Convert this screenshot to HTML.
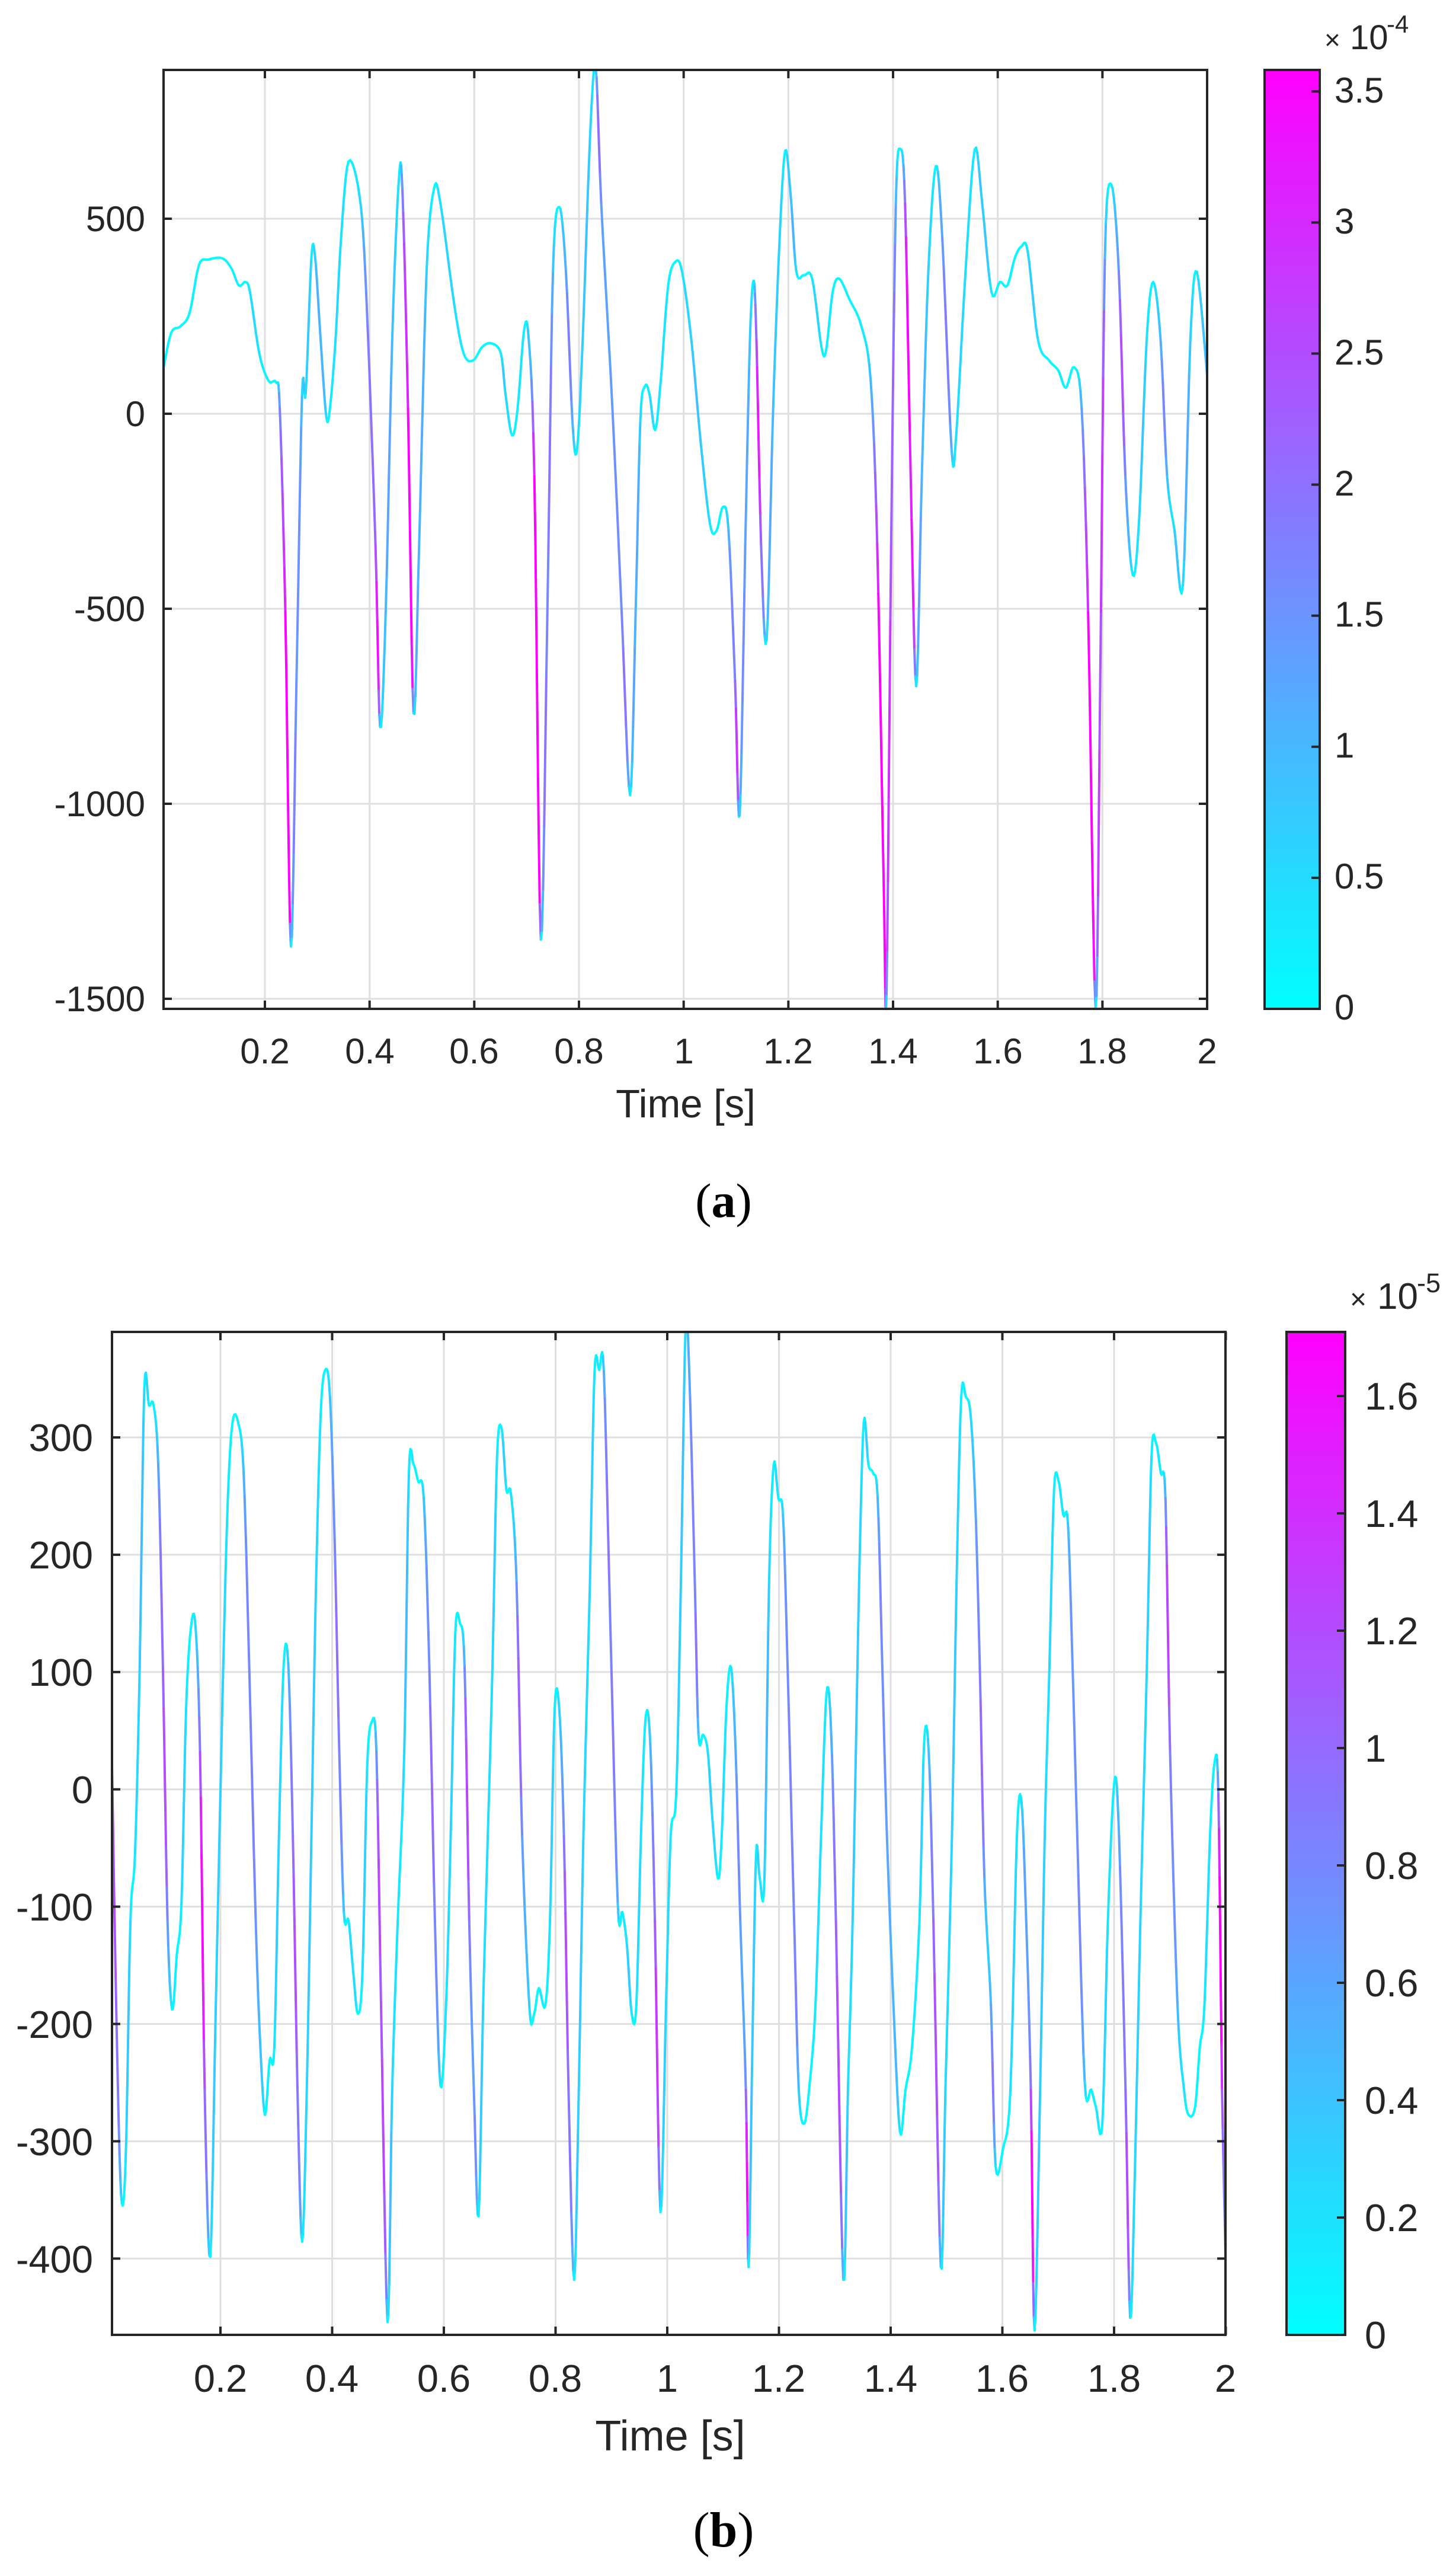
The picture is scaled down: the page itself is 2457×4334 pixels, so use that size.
<!DOCTYPE html>
<html><head><meta charset="utf-8"><style>
html,body{margin:0;padding:0;background:#fff;}
svg{display:block;}
text{font-family:"Liberation Sans",Arial,sans-serif;fill:#262626;}
</style></head><body>
<svg id="s" width="2457" height="4334" viewBox="0 0 2457 4334" xmlns="http://www.w3.org/2000/svg">
<defs>
<linearGradient id="cg" x1="0" y1="1" x2="0" y2="0"><stop offset="0" stop-color="#00ffff"/><stop offset="1" stop-color="#ff00ff"/></linearGradient>
<clipPath id="ca"><rect x="276" y="118" width="1761" height="1584"/></clipPath>
<clipPath id="cb"><rect x="189" y="2247" width="1879" height="1692"/></clipPath>
</defs>
<g id="gridA" stroke="#dfdfdf" stroke-width="3"></g>
<g id="gridB" stroke="#dfdfdf" stroke-width="3"></g>
<g id="curveA" clip-path="url(#ca)"></g>
<g id="curveB" clip-path="url(#cb)"></g>
<g id="axes" stroke="#262626" stroke-width="4" fill="none">
<rect x="276" y="118" width="1761" height="1584"/>
<rect x="189" y="2247" width="1879" height="1692"/>
</g>
<rect x="2134" y="118" width="93" height="1584" fill="url(#cg)" stroke="#262626" stroke-width="4"/>
<rect x="2171" y="2247" width="99" height="1692" fill="url(#cg)" stroke="#262626" stroke-width="4"/>
<g id="ticks" stroke="#262626" stroke-width="4"></g>
<g font-size="60" text-anchor="end">
<text x="245" y="390">500</text><text x="245" y="719">0</text><text x="245" y="1048">-500</text><text x="245" y="1377">-1000</text><text x="245" y="1706">-1500</text>
</g>
<g font-size="60" text-anchor="middle">
<text x="447" y="1794">0.2</text><text x="624" y="1794">0.4</text><text x="800" y="1794">0.6</text><text x="977" y="1794">0.8</text><text x="1154" y="1794">1</text><text x="1330" y="1794">1.2</text><text x="1507" y="1794">1.4</text><text x="1684" y="1794">1.6</text><text x="1860" y="1794">1.8</text><text x="2037" y="1794">2</text>
</g>
<text x="1157" y="1885" font-size="67" text-anchor="middle">Time [s]</text>
<g font-size="60" text-anchor="start">
<text x="2252" y="1720">0</text><text x="2252" y="1499">0.5</text><text x="2252" y="1278">1</text><text x="2252" y="1057">1.5</text><text x="2252" y="836">2</text><text x="2252" y="615">2.5</text><text x="2252" y="394">3</text><text x="2252" y="173">3.5</text>
</g>
<text x="2235" y="83" font-size="46" fill="#555">×</text>
<text x="2278" y="83" font-size="58">10</text>
<text x="2340" y="55" font-size="42">-4</text>
<text x="1221" y="2053" font-size="82" text-anchor="middle" style="font-family:'Liberation Serif',serif;fill:#000">(<tspan font-weight="bold">a</tspan>)</text>
<g font-size="65" text-anchor="end">
<text x="157" y="2448">300</text><text x="157" y="2646">200</text><text x="157" y="2844">100</text><text x="157" y="3042">0</text><text x="157" y="3240">-100</text><text x="157" y="3438">-200</text><text x="157" y="3636">-300</text><text x="157" y="3834">-400</text>
</g>
<g font-size="65" text-anchor="middle">
<text x="372" y="4035">0.2</text><text x="560" y="4035">0.4</text><text x="749" y="4035">0.6</text><text x="937" y="4035">0.8</text><text x="1126" y="4035">1</text><text x="1314" y="4035">1.2</text><text x="1503" y="4035">1.4</text><text x="1691" y="4035">1.6</text><text x="1880" y="4035">1.8</text><text x="2068" y="4035">2</text>
</g>
<text x="1131" y="4134" font-size="72" text-anchor="middle">Time [s]</text>
<g font-size="65" text-anchor="start">
<text x="2303" y="3962">0</text><text x="2303" y="3764">0.2</text><text x="2303" y="3566">0.4</text><text x="2303" y="3368">0.6</text><text x="2303" y="3170">0.8</text><text x="2303" y="2972">1</text><text x="2303" y="2774">1.2</text><text x="2303" y="2576">1.4</text><text x="2303" y="2378">1.6</text>
</g>
<text x="2278" y="2208" font-size="48" fill="#555">×</text>
<text x="2324" y="2208" font-size="62">10</text>
<text x="2391" y="2180" font-size="45">-5</text>
<text x="1221" y="4296" font-size="84" text-anchor="middle" style="font-family:'Liberation Serif',serif;fill:#000">(<tspan font-weight="bold">b</tspan>)</text>
</svg>
<script>
(function(){
var NS="http://www.w3.org/2000/svg";
function el(p,n,a){var e=document.createElementNS(NS,n);for(var k in a)e.setAttribute(k,a[k]);p.appendChild(e);return e;}
var gA=document.getElementById('gridA'),gB=document.getElementById('gridB'),tk=document.getElementById('ticks');
var i,x,y;
for(i=1;i<=10;i++){x=447+(i-1)*176.67;if(i<10){el(gA,'line',{x1:x,y1:118,x2:x,y2:1702});}el(tk,'line',{x1:x,y1:1702,x2:x,y2:1688});el(tk,'line',{x1:x,y1:118,x2:x,y2:132});}
for(i=0;i<5;i++){y=369+i*329;el(gA,'line',{x1:276,y1:y,x2:2037,y2:y});el(tk,'line',{x1:276,y1:y,x2:290,y2:y});el(tk,'line',{x1:2037,y1:y,x2:2023,y2:y});}
for(i=0;i<8;i++){y=1702-i*221.1;el(tk,'line',{x1:2227,y1:y,x2:2213,y2:y});}
for(i=1;i<=10;i++){x=372+(i-1)*188.5;if(i<10){el(gB,'line',{x1:x,y1:2247,x2:x,y2:3939});}el(tk,'line',{x1:x,y1:3939,x2:x,y2:3925});el(tk,'line',{x1:x,y1:2247,x2:x,y2:2261});}
for(i=0;i<8;i++){y=2425+i*197.9;el(gB,'line',{x1:189,y1:y,x2:2068,y2:y});el(tk,'line',{x1:189,y1:y,x2:203,y2:y});el(tk,'line',{x1:2068,y1:y,x2:2054,y2:y});}
for(i=0;i<9;i++){y=3939-i*198;el(tk,'line',{x1:2270,y1:y,x2:2256,y2:y});}

var A=[176,548,185,490,195,480,205,460,215,390,225,382,240,380,250,395,258,420,265,415,270,430,280,520,290,560,298,562,302,600,308,900,314,1390,320,1000,326,580,330,578,336,380,340,378,346,500,352,612,356,600,362,500,368,350,376,238,388,290,395,430,405,800,410,1068,416,900,423,500,430,268,434,280,440,600,446,1048,452,800,460,400,468,278,475,300,490,450,500,520,510,530,520,510,530,505,540,520,545,580,552,640,558,600,565,485,570,500,576,700,583,1380,590,900,596,400,603,305,610,400,617,620,622,660,628,500,636,200,642,100,648,300,660,600,670,900,679,1168,685,900,690,620,695,568,700,580,706,632,712,560,720,420,728,385,735,400,745,500,755,650,765,770,772,780,779,745,785,780,792,1000,797,1198,803,800,808,500,812,413,815,500,820,800,826,940,833,600,840,350,846,222,852,290,858,400,866,405,875,410,885,510,890,515,897,430,904,410,915,440,928,480,938,560,945,800,952,1300,955,1460,960,800,965,300,970,220,975,300,981,700,987,1008,993,700,1000,400,1008,245,1015,350,1025,660,1030,640,1040,400,1050,220,1058,300,1068,430,1077,415,1085,420,1093,380,1100,363,1107,370,1118,500,1130,530,1140,545,1148,570,1157,540,1165,600,1172,900,1180,1480,1185,1000,1190,380,1197,272,1205,400,1212,700,1220,845,1227,760,1235,500,1242,415,1250,500,1257,700,1265,780,1274,860,1282,500,1289,400,1300,550];
var B=[120,605,125,920,130,1125,135,1080,140,800,145,720,150,500,155,170,160,190,165,190,170,260,175,500,180,800,185,905,190,840,195,780,200,550,205,455,210,450,215,600,220,1000,226,1198,232,900,240,500,245,300,250,210,256,210,262,270,268,500,275,800,280,950,285,1030,290,965,295,950,300,700,305,500,310,495,315,700,320,1000,325,1180,330,1000,335,700,340,400,345,200,350,148,355,180,360,350,365,600,370,790,375,800,380,860,385,910,390,860,395,620,400,565,405,600,410,900,417,1275,422,1000,428,800,435,600,440,270,445,260,450,280,456,300,462,500,468,800,474,995,480,900,485,700,490,460,495,448,500,500,505,800,510,1000,515,1150,520,900,525,700,530,500,535,250,540,218,545,290,550,295,556,400,562,700,570,905,575,910,580,880,587,900,592,800,597,550,602,550,607,700,612,1000,618,1225,623,1000,628,700,635,400,640,150,645,148,650,150,657,450,665,780,670,790,675,830,680,910,685,900,690,700,695,560,700,590,705,800,711,1145,717,900,722,700,728,650,733,400,738,100,742,150,748,400,752,580,757,580,762,600,767,680,773,750,777,700,782,550,787,500,792,600,797,800,803,1000,806,1210,810,950,814,720,818,750,823,750,828,400,833,260,838,300,843,320,848,500,855,800,860,1000,866,1040,872,990,878,900,884,700,890,530,895,580,900,800,908,1225,913,1000,918,800,925,400,930,210,935,260,940,270,945,300,950,500,955,700,962,900,969,1050,975,1000,982,950,990,800,995,590,1000,600,1005,800,1013,1210,1018,1000,1025,700,1030,400,1035,180,1040,180,1045,200,1050,300,1055,500,1060,750,1067,900,1072,1090,1080,1070,1088,1000,1095,700,1100,660,1105,800,1110,1000,1114,1285,1120,1000,1125,700,1130,500,1135,290,1140,280,1145,320,1150,330,1155,500,1160,700,1168,990,1175,1000,1180,1020,1187,1040,1193,800,1200,635,1205,700,1212,1000,1217,1270,1222,1100,1228,800,1235,500,1240,250,1245,235,1250,270,1255,300,1260,600,1268,900,1275,1000,1280,1030,1287,1020,1292,950,1297,900,1303,700,1308,612,1312,650,1316,1000,1320,1210];
function conv(arr,fx,fy){var p=[];for(var i=0;i<arr.length;i+=2)p.push([fx(arr[i]),fy(arr[i+1])]);return p;}
var pa=conv(A,function(xz){var t=0.2+(xz-286)*1.8/1014;return 447+(t-0.2)*883.3;},function(yz){var v=500-(yz-322)*2000/1145;return 698-v*0.658;});
var pb=conv(B,function(xz){var t=0.2+(xz-237)*1.8/1083;return 372+(t-0.2)*942.5;},function(yz){var v=300-(yz-228)*700/972;return 2425-(v-300)*1.979;});
function col(c){c=Math.max(0,Math.min(1,c));var r=Math.round(255*c),g=Math.round(255*(1-c));return 'rgb('+r+','+g+',255)';}
function draw(g,p,Sd,Su){
 var pts=[];
 for(var i=0;i<p.length-1;i++){var p0=p[Math.max(0,i-1)],p1=p[i],p2=p[i+1],p3=p[Math.min(p.length-1,i+2)];
  for(var k=0;k<6;k++){var t=k/6,t2=t*t,t3=t2*t;
   var x=0.5*((2*p1[0])+(-p0[0]+p2[0])*t+(2*p0[0]-5*p1[0]+4*p2[0]-p3[0])*t2+(-p0[0]+3*p1[0]-3*p2[0]+p3[0])*t3);
   var y=0.5*((2*p1[1])+(-p0[1]+p2[1])*t+(2*p0[1]-5*p1[1]+4*p2[1]-p3[1])*t2+(-p0[1]+3*p1[1]-3*p2[1]+p3[1])*t3);
   pts.push([x,y]);}}
 pts.push(p[p.length-1]);
 for(var j=0;j<pts.length-1;j++){var a=pts[j],b=pts[j+1];var dx=Math.abs(b[0]-a[0])+0.3,dyS=b[1]-a[1];
  var s=Math.abs(dyS)/dx;var c=dyS>0?s/Sd:s/Su;
  el(g,'line',{x1:a[0].toFixed(1),y1:a[1].toFixed(1),x2:b[0].toFixed(1),y2:b[1].toFixed(1),stroke:col(c),'stroke-width':4,'stroke-linecap':'round'});}
}
draw(document.getElementById('curveA'),pa,45,110);
draw(document.getElementById('curveB'),pb,70,220);
})();
</script>
</body></html>
